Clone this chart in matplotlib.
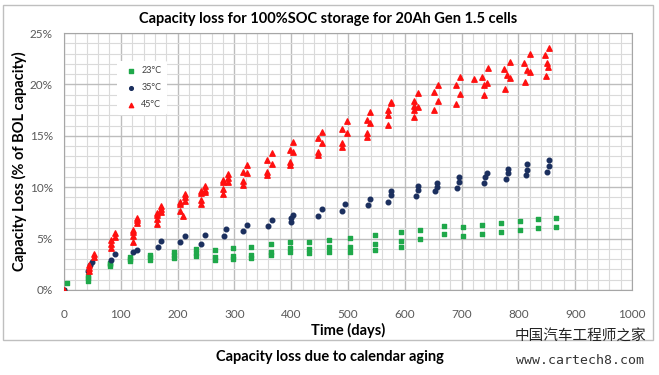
import numpy as np
import matplotlib
matplotlib.use("Agg")
import matplotlib.pyplot as plt
from matplotlib.patches import Rectangle
from matplotlib.ticker import MultipleLocator, PercentFormatter

# 23°C cells (days, capacity loss %)
days_23 = [0, 6, 43, 43, 43, 81, 81, 81, 116, 116, 116, 151, 151, 151,
           194, 194, 194, 232, 232, 232, 266, 266, 266, 298, 298, 298,
           330, 330, 330, 364, 364, 364, 398, 398, 398, 432, 432, 432,
           467, 467, 467, 504, 504, 504, 548, 548, 548, 593, 593, 593,
           627, 627, 669, 669, 703, 703, 736, 736, 769, 769, 802, 802,
           835, 835, 867, 867]
loss_23 = [0.0, 0.65, 0.9, 1.2, 1.4, 2.3, 2.5, 2.6, 2.8, 3.0, 3.2, 2.9, 3.2, 3.4,
           3.1, 3.4, 3.7, 3.3, 3.6, 4.0, 3.9, 3.2, 2.9, 4.05, 3.3, 3.0,
           4.2, 3.4, 3.1, 4.5, 3.7, 3.4, 4.7, 4.05, 3.7, 4.7, 4.0, 3.6,
           4.9, 4.2, 3.7, 5.1, 4.2, 3.7, 5.35, 4.5, 3.9, 5.6, 4.8, 4.15,
           5.85, 5.0, 6.2, 5.4, 6.1, 5.25, 6.3, 5.4, 6.5, 5.6, 6.7, 5.8,
           6.9, 6.0, 7.0, 6.1]

# 35°C cells
days_35 = [0, 43, 46, 50, 83, 89, 122, 128, 165, 171, 204, 213, 242, 249,
           281, 285, 316, 323, 360, 366, 400, 400, 403, 447, 454, 490, 495,
           535, 539, 571, 575, 575, 620, 624, 624, 653, 656, 656, 692, 696, 696,
           739, 742, 744, 778, 781, 781, 813, 816, 816, 850, 853, 853]
loss_35 = [0.0, 1.8, 2.4, 2.75, 2.9, 3.5, 3.7, 3.9, 4.15, 4.8, 4.7, 5.25, 4.5, 5.35,
           5.25, 5.9, 5.7, 6.3, 6.2, 6.8, 6.6, 7.0, 7.3, 7.2, 7.9, 7.7, 8.4,
           8.3, 8.9, 8.6, 9.2, 9.6, 9.1, 9.7, 10.1, 9.6, 10.0, 10.4, 9.9, 10.5, 11.0,
           10.4, 11.0, 11.4, 10.8, 11.4, 11.8, 11.2, 11.7, 12.3, 11.5, 12.1, 12.6]

# 45°C cells
days_45 = [0, 44, 44, 44, 53, 53, 83, 83, 83, 90, 90,
           122, 122, 122, 122, 128, 128, 128, 163, 163, 163, 163, 171, 171, 171,
           204, 204, 204, 209, 213, 213, 213, 242, 242, 242, 242, 248, 248, 248,
           280, 280, 280, 280, 288, 288, 288, 316, 316, 316, 323, 323,
           358, 358, 358, 366, 366, 398, 398, 398, 404, 404,
           447, 447, 447, 454, 454, 490, 490, 490, 498, 498,
           533, 533, 533, 539, 539, 571, 571, 571, 576, 576,
           617, 617, 617, 617, 624, 624, 652, 652, 658, 658,
           691, 691, 697, 697, 722, 736, 740, 740, 745, 747,
           775, 777, 780, 785, 785, 810, 812, 816, 820, 820,
           846, 848, 850, 852, 854]
loss_45 = [0.0, 1.8, 2.1, 2.4, 3.2, 3.55, 4.1, 4.5, 4.9, 5.2, 5.5,
           4.7, 5.3, 5.6, 5.8, 6.5, 6.8, 7.0, 6.4, 6.9, 7.3, 7.5, 7.6, 7.9, 8.2,
           7.7, 8.4, 8.6, 7.2, 8.7, 9.0, 9.3, 8.4, 8.8, 9.4, 9.6, 9.5, 9.7, 10.1,
           9.3, 9.8, 10.5, 10.7, 10.5, 10.9, 11.3, 10.2, 10.6, 11.5, 11.35, 12.2,
           11.2, 11.5, 12.65, 12.3, 13.3, 12.2, 12.5, 13.6, 13.45, 14.4,
           13.1, 13.45, 14.75, 14.3, 15.4, 13.9, 14.3, 15.7, 15.25, 16.4,
           14.9, 15.25, 16.5, 16.2, 17.3, 16.05, 17.0, 17.5, 18.2, 18.3,
           16.8, 17.5, 17.9, 18.4, 17.8, 19.2, 17.5, 19.3, 18.4, 19.9,
           18.1, 19.9, 19.1, 20.7, 20.5, 20.75, 19.0, 19.9, 20.1, 21.6,
           21.5, 19.6, 20.9, 20.6, 22.2, 22.1, 20.2, 21.4, 21.2, 23.0,
           22.9, 20.8, 22.05, 21.7, 23.5]

plt.rcParams["font.family"] = ["Lato", "DejaVu Sans"]

fig = plt.figure(figsize=(6.59, 3.75), dpi=100)
fig.patches.append(Rectangle((0.0046, 0.0933), 0.986, 0.893, transform=fig.transFigure,
                             fill=False, edgecolor="#BFBFBF", linewidth=1))

ax = fig.add_axes([64 / 659, 1 - 290 / 375, 568 / 659, 257 / 375])

ax.scatter(days_23, loss_23, marker="s", s=8, color="#1FA84A", label="23°C", zorder=3)
ax.scatter(days_35, loss_35, marker="o", s=11, color="#1B2F5E", label="35°C", zorder=3)
ax.scatter(days_45, loss_45, marker="^", s=15, color="#FF1010", label="45°C", zorder=3)

ax.set_xlim(0, 1000)
ax.set_ylim(0, 25)
ax.xaxis.set_major_locator(MultipleLocator(100))
ax.xaxis.set_minor_locator(MultipleLocator(20))
ax.yaxis.set_major_locator(MultipleLocator(5))
ax.yaxis.set_minor_locator(MultipleLocator(1))
ax.yaxis.set_major_formatter(PercentFormatter(decimals=0))
ax.grid(which="major", color="#BDBDBD", linewidth=1.0)
ax.grid(which="minor", color="#DADADA", linewidth=0.8)
ax.set_axisbelow(True)
for s in ax.spines.values():
    s.set_color("#A6A6A6")
ax.tick_params(which="both", length=0)
ax.tick_params(axis="x", pad=14, labelsize=8.5, labelcolor="#595959")
ax.tick_params(axis="y", pad=8, labelsize=8.5, labelcolor="#595959")

ax.set_xlabel("Time (days)", fontsize=10.5, fontweight="bold", labelpad=2)
ax.set_ylabel("Capacity Loss (% of BOL capacity)", fontsize=10.5, fontweight="bold", labelpad=2)

fig.text(328 / 659, 1 - 19 / 375, "Capacity loss for 100%SOC storage for 20Ah Gen 1.5 cells",
         fontsize=10.5, fontweight="bold", ha="center", va="center")

leg = ax.legend(loc="upper left", bbox_to_anchor=(0.085, 0.91), fontsize=6.5,
                frameon=True, facecolor="white", edgecolor="none", framealpha=1,
                handletextpad=0.1, markerscale=0.8, labelspacing=0.9, borderpad=0.6)
for t in leg.get_texts():
    t.set_color("#404040")

fig.text(330 / 659, 1 - 357 / 375, "Capacity loss due to calendar aging",
         fontsize=10.5, fontweight="bold", ha="center", va="center")
fig.text(580 / 659, 1 - 337 / 375, "中国汽车工程师之家", family=["Noto Sans CJK SC", "DejaVu Sans"],
         fontsize=10.5, ha="center", va="center", color="#222222")
fig.text(580 / 659, 1 - 360 / 375, "www.cartech8.com", family=["DejaVu Sans Mono"],
         fontsize=9.5, ha="center", va="center", color="#333333")

fig.savefig("out.png", dpi=100)
